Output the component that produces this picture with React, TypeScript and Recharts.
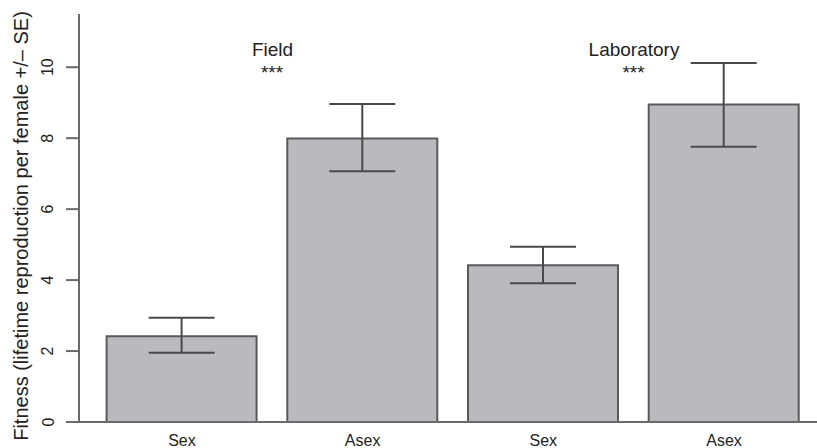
import React from 'react';
import { BarChart, Bar, XAxis, YAxis, ErrorBar, Customized } from 'recharts';

const categories = ['Sex', 'Asex', 'Sex', 'Asex'];
const means = [2.42, 7.99, 4.42, 8.95];
const seLower = [1.95, 7.07, 3.91, 7.76];
const seUpper = [2.94, 8.96, 4.94, 10.12];
const yTicks = [0, 2, 4, 6, 8, 10];
const groupLabels = ['Field', 'Laboratory'];
const significance = ['***', '***'];
const yTitle = 'Fitness (lifetime reproduction per female +/\u2013 SE)';

const data = categories.map((c, i) => ({
  id: i,
  category: c,
  mean: means[i],
  err: [means[i] - seLower[i], seUpper[i] - means[i]],
}));

const FONT = '"Liberation Sans", Arial, Helvetica, sans-serif';
const TEXT = '#222';
const AXIS = '#6a6a6a';

const YTick = (props: any) => {
  const { y, payload } = props;
  const x = 53.5;
  return (
    <text x={x} y={y} transform={`rotate(-90, ${x}, ${y})`} textAnchor="middle" fontSize={16} fill={TEXT} fontFamily={FONT}>
      {payload.value}
    </text>
  );
};

const XTick = (props: any) => {
  const { x, payload } = props;
  return (
    <text x={x} y={445.5} textAnchor="middle" fontSize={16} fill={TEXT} fontFamily={FONT}>
      {categories[payload.value]}
    </text>
  );
};

const Annotations = () => {
  const groupX = [272.5, 634];
  return (
    <g fontFamily={FONT} fill={TEXT}>
      {groupLabels.map((g, i) => (
        <text key={'g' + i} x={groupX[i]} y={55.5} textAnchor="middle" fontSize={19}>{g}</text>
      ))}
      {significance.map((s, i) => (
        <text key={'s' + i} x={groupX[i] - 0.5} y={79} textAnchor="middle" fontSize={19}>{s}</text>
      ))}
      <text x={28} y={226} transform="rotate(-90, 28, 226)" textAnchor="middle" fontSize={20}>{yTitle}</text>
    </g>
  );
};

export default function App() {
  return (
    <div style={{ position: 'absolute', left: 0, top: 0, background: '#fff' }}>
      <BarChart width={817} height={448} data={data} margin={{ top: 14, right: 0, bottom: 0, left: 0 }}>
        <XAxis
          dataKey="id"
          type="category"
          height={26}
          padding={{ left: 12.6, right: 2.6 }}
          tickLine={false}
          axisLine={{ stroke: AXIS, strokeWidth: 2 }}
          tick={<XTick />}
          interval={0}
        />
        <YAxis
          width={79}
          domain={[0, 11.5]}
          ticks={yTicks}
          tickSize={13}
          tickLine={{ stroke: AXIS, strokeWidth: 2 }}
          axisLine={{ stroke: AXIS, strokeWidth: 2 }}
          tick={<YTick />}
          allowDataOverflow
        />
        <Bar dataKey="mean" barSize={150} fill="#b9babe" stroke="#5a5a5a" strokeWidth={2} isAnimationActive={false}>
          <ErrorBar dataKey="err" width={33} stroke="#4a4a4a" strokeWidth={2} isAnimationActive={false} />
        </Bar>
        <Customized component={Annotations} />
      </BarChart>
    </div>
  );
}
